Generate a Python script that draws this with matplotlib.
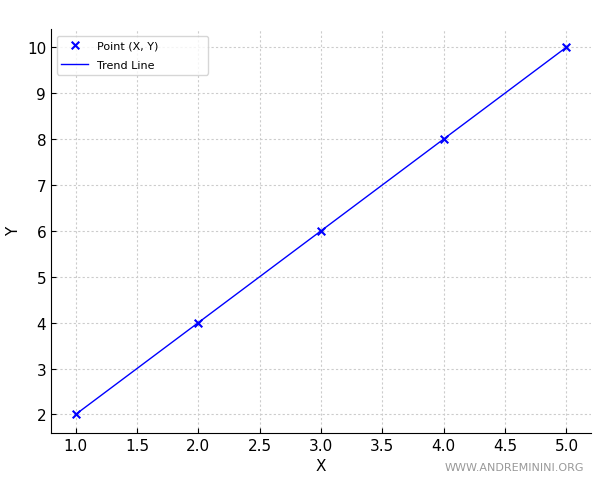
import matplotlib
matplotlib.use('Agg')
import matplotlib.pyplot as plt

x = [1, 2, 3, 4, 5]
y = [2, 4, 6, 8, 10]

fig = plt.figure(figsize=(6, 4.81), dpi=100)
ax = fig.add_axes([0.085, 0.098, 0.9, 0.84])

ax.scatter(x, y, color='blue', marker='x', s=30, label='Point (X, Y)', zorder=3)
ax.plot(x, y, color='blue', linewidth=1, label='Trend Line')

ax.set_xlabel('X', fontsize=11)
ax.set_ylabel('Y', fontsize=11)
ax.tick_params(direction='in', labelsize=11)
ax.spines['top'].set_visible(False)
ax.spines['right'].set_visible(False)
ax.grid(True, linestyle=(0, (2, 2)), color='#cccccc', linewidth=0.8)
ax.legend(loc='upper left', bbox_to_anchor=(0.011, 0.983, 0.28, 0), mode='expand',
          fontsize=8, handlelength=2.4, labelspacing=0.9, borderaxespad=0)

fig.text(0.973, 0.017, 'WWW.ANDREMININI.ORG', ha='right', va='bottom',
         fontsize=8, color='#999999')

fig.savefig('out.png', dpi=100)
